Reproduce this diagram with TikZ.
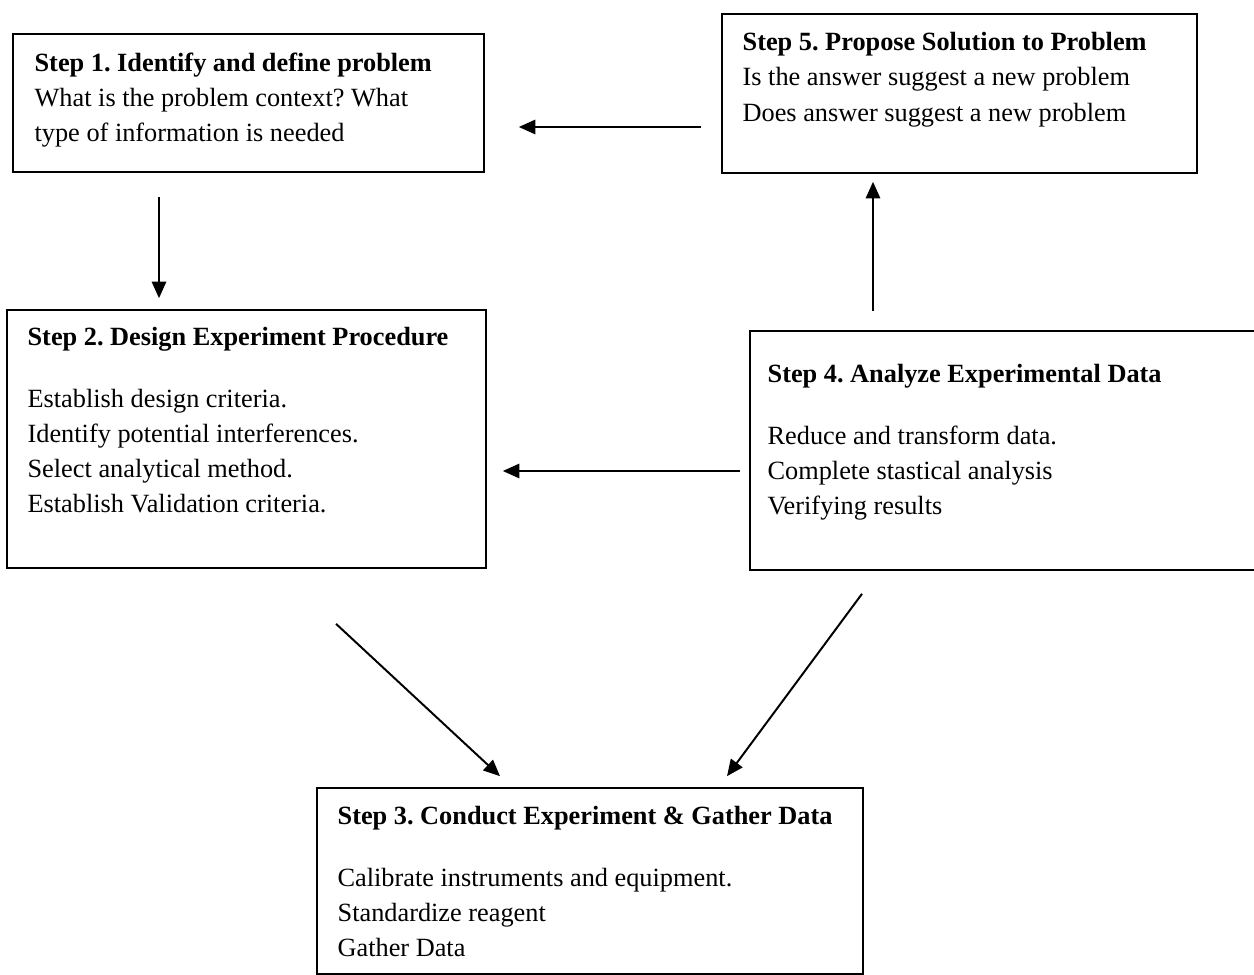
\documentclass[tikz,border=0pt]{standalone}
\usepackage{fontspec}
\setmainfont{Liberation Serif}
\usetikzlibrary{arrows.meta,positioning}

\def\pxu{0.456pt}

\begin{document}
\begin{tikzpicture}[
    x=0.456pt, y=-0.456pt,
    >={Triangle[length=7.5pt,width=6.5pt]},
    % Styling for the step boxes and arrows
    stepbox/.style={rectangle, draw=black, line width=0.75pt, inner sep=0pt},
    steptext/.style={anchor=north west, inner sep=0pt, align=left, font=\fontsize{12pt}{16pt}\selectfont\frenchspacing},
    flow/.style={->, line width=0.9pt}
]
    \useasboundingbox (0,0) rectangle (1254,975);

    % Step Boxes
    \node[stepbox, minimum width=471*\pxu, minimum height=138*\pxu] (s1) at (248.5,103) {};
    \node[stepbox, minimum width=475*\pxu, minimum height=159*\pxu] (s5) at (959.5,93.5) {};
    \node[stepbox, minimum width=479*\pxu, minimum height=258*\pxu] (s2) at (246.5,439) {};
    \node[stepbox, minimum width=520*\pxu, minimum height=239*\pxu] (s4) at (1010,450.5) {};
    \node[stepbox, minimum width=546*\pxu, minimum height=186*\pxu] (s3) at (590,881) {};

    % Box Texts
    \node[steptext] (t1) at ([shift={(22,19)}]s1.north west) {
        \textbf{Step 1. Identify and define problem}\\
        What is the problem context? What\\
        type of information is needed};
    \node[steptext] (t5) at ([shift={(21,19)}]s5.north west) {
        \textbf{Step 5. Propose Solution to Problem}\\
        Is the answer suggest a new problem\\
        Does answer suggest a new problem};
    \node[steptext] (t2) at ([shift={(21,18)}]s2.north west) {
        \textbf{Step 2. Design Experiment Procedure}\\[12pt]
        Establish design criteria.\\
        Identify potential interferences.\\
        Select analytical method.\\
        Establish Validation criteria.};
    \node[steptext] (t4) at ([shift={(18,34)}]s4.north west) {
        \textbf{Step 4. Analyze Experimental Data}\\[12pt]
        Reduce and transform data.\\
        Complete stastical analysis\\
        Verifying results};
    \node[steptext] (t3) at ([shift={(21,19)}]s3.north west) {
        \textbf{Step 3. Conduct Experiment \& Gather Data}\\[12pt]
        Calibrate instruments and equipment.\\
        Standardize reagent\\
        Gather Data};

    % Arrows between steps
    \draw[flow] ([shift={(-20,33.5)}]s5.west) -- ([shift={(34,24)}]s1.east);
    \draw[flow] ([shift={(-89.5,24)}]s1.south) -- ([shift={(-87.5,-11)}]s2.north);
    \draw[flow] ([shift={(-137,-19)}]s4.north) -- ([shift={(-86.5,8)}]s5.south);
    \draw[flow] ([shift={(-9,20.5)}]s4.west) -- ([shift={(16,32)}]s2.east);
    \draw[flow] ([shift={(89.5,55)}]s2.south) -- ([shift={(-90,-11)}]s3.north);
    \draw[flow] ([shift={(-148,23)}]s4.south) -- ([shift={(137,-11)}]s3.north);

\end{tikzpicture}
\end{document}
